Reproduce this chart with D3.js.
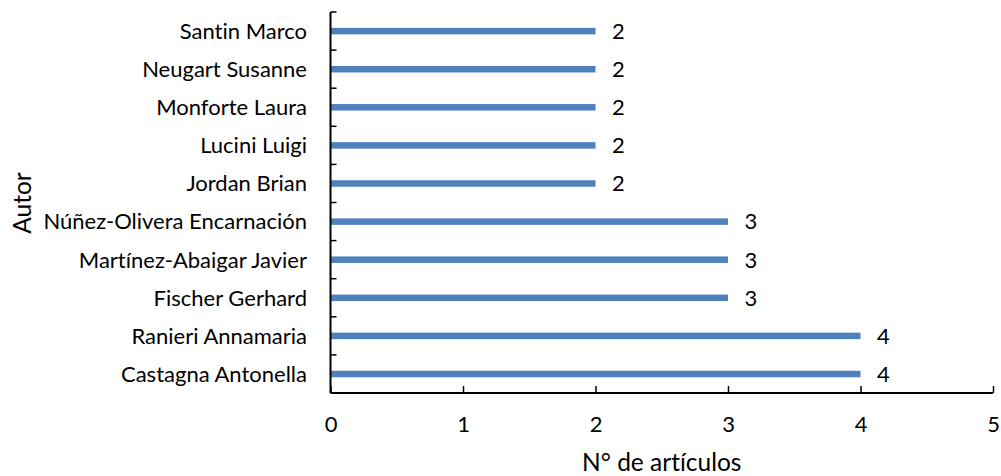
<!DOCTYPE html>
<html><head><meta charset="utf-8">
<script src="https://cdn.jsdelivr.net/npm/d3@7"></script>
<style>
html,body{margin:0;padding:0;background:#fff;}
text{font-family:Lato, "Open Sans", sans-serif;fill:#000;font-variant-ligatures:none;}
</style></head>
<body><svg id="c" width="1001" height="476"></svg>
<script>
const authors = ["Santin Marco","Neugart Susanne","Monforte Laura","Lucini Luigi","Jordan Brian","Núñez-Olivera Encarnación","Martínez-Abaigar Javier","Fischer Gerhard","Ranieri Annamaria","Castagna Antonella"];
const articles = [2,2,2,2,2,3,3,3,4,4];
const xTicks = [0,1,2,3,4,5];
const xTitle = "N° de artículos";
const yTitle = "Autor";

const svg = d3.select("#c");
const m = {l:330.5, r:993, t:12, b:393};
const x = d3.scaleLinear().domain([0,5]).range([m.l, m.r]);
const y = d3.scaleBand().domain(authors).range([m.t, m.b]);
const fs = 22, tfs = 24.5;

// bars
svg.selectAll("rect.bar").data(authors).join("rect")
  .attr("x", x(0)).attr("y", d => y(d) + y.bandwidth()/2 - 3.2)
  .attr("width", (d,i) => x(articles[i]) - x(0)).attr("height", 6.5)
  .attr("fill", "#4F81BD");

// value labels
svg.selectAll("text.val").data(authors).join("text")
  .attr("x", (d,i) => x(articles[i]) + 16.5).attr("y", d => y(d) + y.bandwidth()/2)
  .attr("dy", "0.36em").style("font-size", fs+"px")
  .text((d,i) => articles[i]);

// x axis
const xa = svg.append("g").attr("transform", `translate(0,${m.b})`)
  .call(d3.axisBottom(x).tickValues(xTicks).tickSize(-7).tickFormat(d3.format("d")));
xa.select(".domain").attr("stroke","#000").attr("stroke-width",2).attr("d", `M${m.l},0H${m.r}`);
xa.selectAll(".tick line").attr("stroke","#000").attr("stroke-width",1.5);
xa.selectAll("text").attr("y", 39).attr("dy", null)
  .style("font-size", fs+"px").style("font-family","Lato").attr("fill","#000");

// y axis
const ya = svg.append("g").attr("transform", `translate(${m.l},0)`)
  .call(d3.axisLeft(y).tickSize(0).tickPadding(23.5));
ya.select(".domain").attr("stroke","#000").attr("stroke-width",2).attr("d", `M0,${m.t}V${m.b}`);
ya.selectAll("text").attr("dy","0.36em").style("font-size", fs+"px").style("font-family","Lato").attr("fill","#000");
// category boundary ticks
const bounds = authors.map(d => y(d));
svg.selectAll("line.ct").data(bounds).join("line")
  .attr("x1", m.l).attr("x2", m.l + 6).attr("y1", d => d).attr("y2", d => d)
  .attr("stroke","#000").attr("stroke-width",1.5);

// titles
svg.append("text").attr("x", (m.l+m.r)/2).attr("y", 471)
  .attr("text-anchor","middle").style("font-size", tfs+"px").text(xTitle);
svg.append("text").attr("transform", "translate(31,203) rotate(-90)")
  .attr("text-anchor","middle").style("font-size", tfs+"px").text(yTitle);
</script></body></html>
